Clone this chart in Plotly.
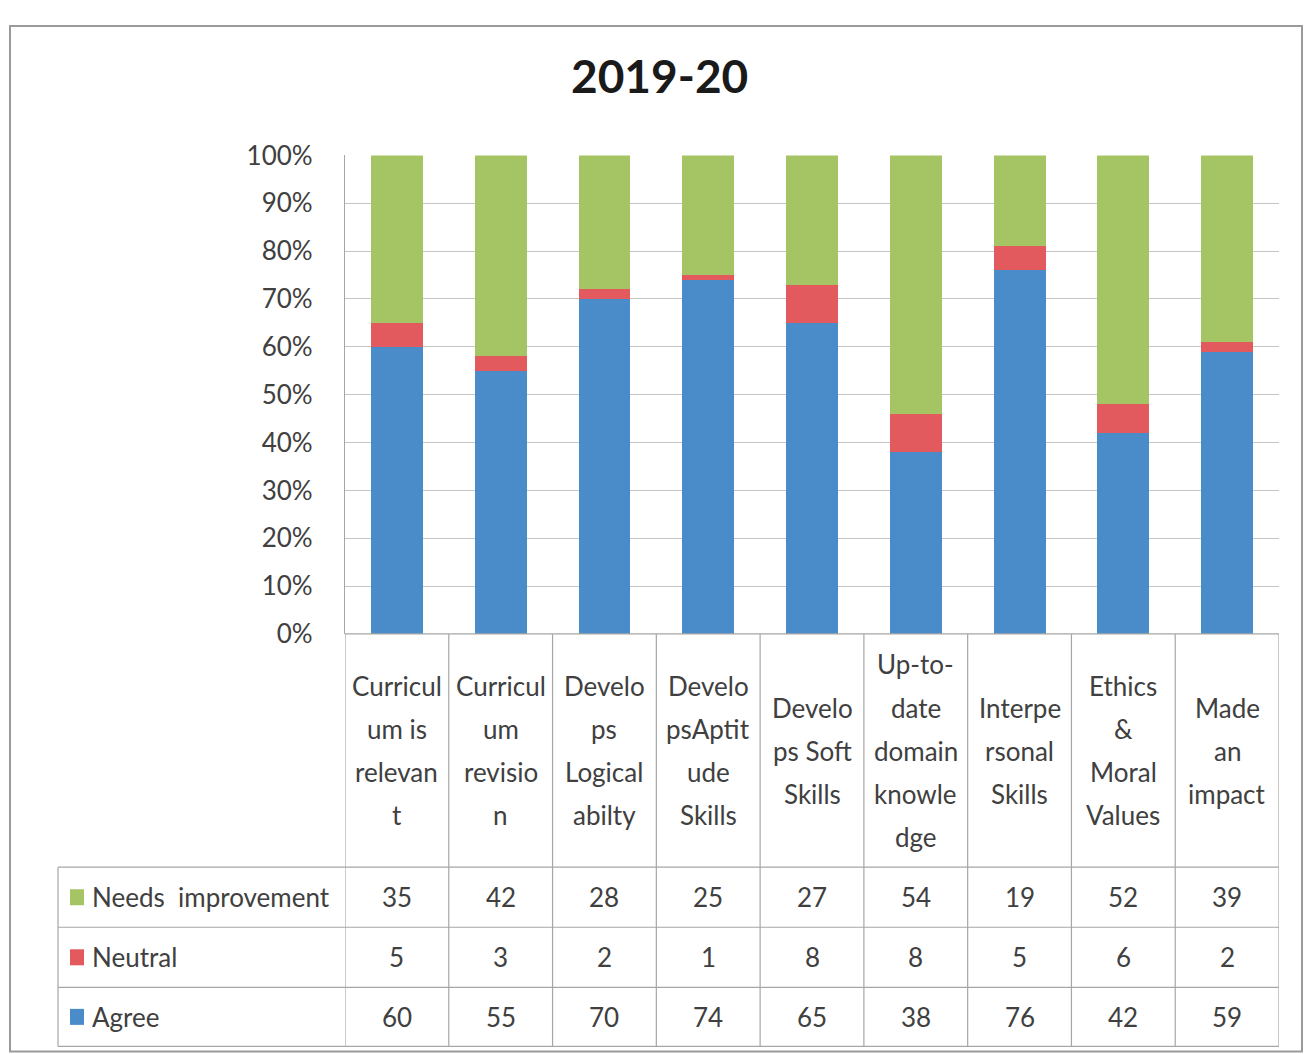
import plotly.graph_objects as go

# ---------------- data ----------------
categories = [
    "Curriculum is relevant",
    "Curriculum revision",
    "Develops Logical abilty",
    "DevelopsAptitude Skills",
    "Develops Soft Skills",
    "Up-to-date domain knowledge",
    "Interpersonal Skills",
    "Ethics & Moral Values",
    "Made an impact",
]
# label lines as wrapped in the chart's data table
category_lines = [
    ["Curricul", "um is", "relevan", "t"],
    ["Curricul", "um", "revisio", "n"],
    ["Develo", "ps", "Logical", "abilty"],
    ["Develo", "psAptit", "ude", "Skills"],
    ["Develo", "ps Soft", "Skills"],
    ["Up-to-", "date", "domain", "knowle", "dge"],
    ["Interpe", "rsonal", "Skills"],
    ["Ethics", "&", "Moral", "Values"],
    ["Made", "an", "impact"],
]
agree = [60, 55, 70, 74, 65, 38, 76, 42, 59]
neutral = [5, 3, 2, 1, 8, 8, 5, 6, 2]
needs_improvement = [35, 42, 28, 25, 27, 54, 19, 52, 39]
series_names = ["Agree", "Neutral", "Needs improvement"]
series_colors = ["#4a8bc9", "#e25a5e", "#a5c565"]
title_text = "2019-20"
y_ticks = [0, 10, 20, 30, 40, 50, 60, 70, 80, 90, 100]

# ---------------- layout geometry (target screen pixels) ----------------
X_OFF = 8                    # page body margin (horizontal)
Y_SCALE, Y_OFF = 0.9686, 25.5  # observed vertical page->screen mapping
W, H = 1311 - 2 * X_OFF, 1054
PX_L, PX_R = 345, 1279      # plot area left/right
PY_TOP, PY_BOT = 155, 633   # 100% and 0%
HDR_BOT = 866               # bottom of category header row
ROW_EDGES = [866, 926, 986, 1045]
TABLE_LEFT = 58
FONT = "Lato, Carlito, Calibri, sans-serif"
TXT = "#404040"
LINE = "#a6a6a6"


def fx(px):
    return (px - X_OFF) / W


def fy(py):
    return 1 - (py / Y_SCALE - Y_OFF) / H


n = len(categories)
xs = list(range(n))

fig = go.Figure()
for name, vals, col in zip(series_names, [agree, neutral, needs_improvement], series_colors):
    fig.add_trace(go.Bar(x=xs, y=vals, name=name, marker=dict(color=col, line=dict(width=0)),
                         width=0.5, showlegend=False))

shapes = []
annotations = []

# header row separators and table lines
for i in range(n + 1):
    shapes.append(dict(type="line", xref="x", yref="paper", x0=i - 0.5, x1=i - 0.5,
                       y0=fy(ROW_EDGES[-1]), y1=fy(PY_BOT), line=dict(color=LINE, width=1.2)))
shapes.append(dict(type="line", xref="paper", yref="paper", x0=fx(PX_L), x1=fx(PX_R),
                   y0=fy(PY_BOT), y1=fy(PY_BOT), line=dict(color=LINE, width=1.2)))
for ry in ROW_EDGES:
    shapes.append(dict(type="line", xref="paper", yref="paper", x0=fx(TABLE_LEFT), x1=fx(PX_R),
                       y0=fy(ry), y1=fy(ry), line=dict(color=LINE, width=1.2)))
shapes.append(dict(type="line", xref="paper", yref="paper", x0=fx(TABLE_LEFT), x1=fx(TABLE_LEFT),
                   y0=fy(ROW_EDGES[0]), y1=fy(ROW_EDGES[-1]), line=dict(color=LINE, width=1.2)))
# outer chart frame
shapes.append(dict(type="rect", xref="paper", yref="paper", x0=fx(10), x1=fx(1302),
                   y0=fy(1050), y1=0.999, line=dict(color="#9a9a9a", width=2)))

# category labels (each wrapped line)
hdr_center = (PY_BOT + HDR_BOT) / 2
line_gap = 43
for i, lines in enumerate(category_lines):
    m = len(lines)
    for j, t in enumerate(lines):
        py = hdr_center + (j - (m - 1) / 2) * line_gap
        annotations.append(dict(x=i, y=fy(py), xref="x", yref="paper", text=t, showarrow=False,
                                xanchor="center", yanchor="middle",
                                font=dict(family=FONT, size=26, color=TXT)))

# data rows: Needs improvement, Neutral, Agree (top to bottom)
rows = [("Needs improvement", needs_improvement, series_colors[2]),
        ("Neutral", neutral, series_colors[1]),
        ("Agree", agree, series_colors[0])]
for r, (name, vals, col) in enumerate(rows):
    cy = (ROW_EDGES[r] + ROW_EDGES[r + 1]) / 2
    shapes.append(dict(type="rect", xref="paper", yref="paper", x0=fx(70), x1=fx(84),
                       y0=fy(cy + 8), y1=fy(cy - 8), line=dict(width=0), fillcolor=col))
    annotations.append(dict(x=fx(90), y=fy(cy), xref="paper", yref="paper",
                            text=name.replace(" ", "&nbsp; "),
                            showarrow=False, xanchor="left", yanchor="middle",
                            font=dict(family=FONT, size=26, color=TXT)))
    for i, v in enumerate(vals):
        annotations.append(dict(x=i, y=fy(cy), xref="x", yref="paper", text=str(v),
                                showarrow=False, xanchor="center", yanchor="middle",
                                font=dict(family=FONT, size=26, color=TXT)))

# title
annotations.append(dict(x=fx(659), y=fy(75), xref="paper", yref="paper", text="<b>" + title_text + "</b>",
                        showarrow=False, xanchor="center", yanchor="middle",
                        font=dict(family=FONT, size=46, color="#1a1a1a")))

fig.update_layout(
    width=W, height=H, autosize=False,
    margin=dict(l=0, r=0, t=0, b=0),
    paper_bgcolor="white", plot_bgcolor="white",
    barmode="stack", barnorm="percent",
    shapes=shapes, annotations=annotations,
    xaxis=dict(domain=[fx(PX_L), fx(PX_R)], range=[-0.5, n - 0.5], showticklabels=False,
               showgrid=False, zeroline=False, showline=False, fixedrange=True),
    yaxis=dict(domain=[fy(PY_BOT), fy(PY_TOP)], range=[0, 100], tickvals=y_ticks,
               ticktext=[f"{v}%" for v in y_ticks], showgrid=True, gridcolor="#c4c4c4",
               gridwidth=1.2, zeroline=False, showline=True, linecolor=LINE, linewidth=1.2,
               ticks="", ticklabelstandoff=26,
               tickfont=dict(family=FONT, size=26, color=TXT)),
    font=dict(family=FONT, color=TXT),
)

fig.write_html("out.html")
